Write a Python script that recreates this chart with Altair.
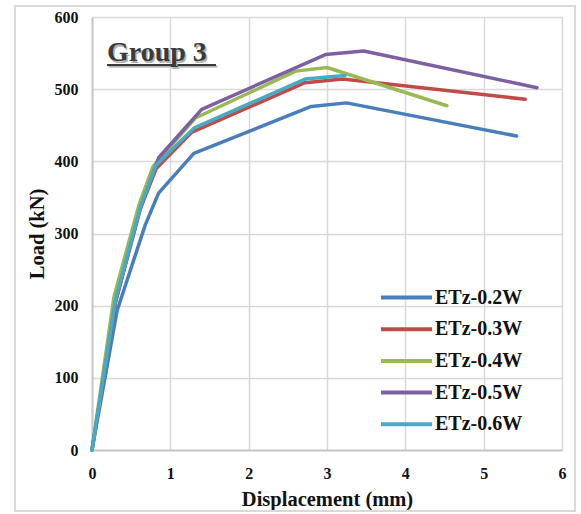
import altair as alt
import pandas as pd

series_names = ["ETz-0.2W", "ETz-0.3W", "ETz-0.4W", "ETz-0.5W", "ETz-0.6W"]
colors = ["#4A7EBB", "#BE4B48", "#98B954", "#7D60A0", "#46AAC5"]

disp_02 = [0, 0.32, 0.68, 0.85, 1.30, 2.80, 3.25, 5.42]
load_02 = [0, 193, 312, 356, 411, 476, 481, 435]
disp_03 = [0, 0.30, 0.60, 0.82, 1.27, 2.72, 3.20, 5.53]
load_03 = [0, 205, 330, 390, 440, 509, 514, 486]
disp_04 = [0, 0.28, 0.60, 0.78, 1.32, 2.60, 3.00, 4.53]
load_04 = [0, 212, 340, 393, 460, 525, 530, 477]
disp_05 = [0, 0.30, 0.62, 0.85, 1.40, 2.98, 3.47, 5.68]
load_05 = [0, 205, 335, 405, 472, 548, 553, 502]
disp_06 = [0, 0.30, 0.62, 0.82, 1.30, 2.72, 3.23]
load_06 = [0, 208, 338, 395, 446, 514, 519]

x_ticks = [0, 1, 2, 3, 4, 5, 6]
y_ticks = [0, 100, 200, 300, 400, 500, 600]
title_text = "Group 3"

rows = []
for name, xs, ys in zip(series_names,
                        [disp_02, disp_03, disp_04, disp_05, disp_06],
                        [load_02, load_03, load_04, load_05, load_06]):
    for i, (xv, yv) in enumerate(zip(xs, ys)):
        rows.append({"series": name, "disp": xv, "load": yv, "idx": i})
df = pd.DataFrame(rows)

FONT = "Liberation Serif"

lines = alt.Chart(df).mark_line(strokeWidth=3.5, strokeCap="round", strokeJoin="round").encode(
    x=alt.X("disp:Q", scale=alt.Scale(domain=[0, 6], nice=False),
            axis=alt.Axis(values=x_ticks, title="Displacement (mm)", format="d")),
    y=alt.Y("load:Q", scale=alt.Scale(domain=[0, 600], nice=False),
            axis=alt.Axis(values=y_ticks, title="Load (kN)", format="d")),
    color=alt.Color("series:N", scale=alt.Scale(domain=series_names, range=colors),
                    legend=alt.Legend(title=None, orient="none", legendX=287, legendY=270,
                                      symbolType="stroke", symbolSize=2601, symbolStrokeWidth=4,
                                      labelFont=FONT, labelFontSize=20, labelFontWeight="bold",
                                      labelColor="#111111", rowPadding=10.7, padding=0,
                                      labelOffset=1, clipHeight=21)),
    order="idx:Q",
)

frame = alt.Chart(pd.DataFrame({"a": [0]})).mark_rect(
    fill=None, stroke="#D9D9D9", strokeWidth=2
).encode(x=alt.value(-77), x2=alt.value(483), y=alt.value(-11), y2=alt.value(494))

tdf = pd.DataFrame({"t": [title_text]})
shadow = alt.Chart(tdf).mark_text(font=FONT, fontSize=28, fontWeight="bold", align="left",
                                  baseline="alphabetic", color="#B0B0B0").encode(
    x=alt.value(16.5), y=alt.value(45.5), text="t:N")
title = alt.Chart(tdf).mark_text(font=FONT, fontSize=28, fontWeight="bold", align="left",
                                 baseline="alphabetic", color="#3A3A3A").encode(
    x=alt.value(15), y=alt.value(44), text="t:N")
underline_sh = alt.Chart(tdf).mark_rule(stroke="#B0B0B0", strokeWidth=2).encode(
    x=alt.value(16.5), x2=alt.value(125.5), y=alt.value(49.5))
underline = alt.Chart(tdf).mark_rule(stroke="#3A3A3A", strokeWidth=2).encode(
    x=alt.value(15), x2=alt.value(124), y=alt.value(48))

chart = alt.layer(frame, lines, underline_sh, underline, shadow, title).properties(
    width=470, height=433,
    padding={"left": 92, "top": 17, "right": 19, "bottom": 64},
    autosize=alt.AutoSizeParams(type="none"),
).configure_view(stroke=None).configure_axis(
    labelFont=FONT, labelFontSize=16, labelFontWeight="bold", labelColor="#111111",
    titleFont=FONT, titleFontSize=20.5, titleFontWeight="bold", titleColor="#111111",
    grid=True, gridColor="#D9D9D9", gridWidth=1.5, ticks=False, labelFlush=False,
    domainColor="#C8C8C8", domainWidth=2,
).configure_axisY(labelPadding=14, titlePadding=7).configure_axisX(labelPadding=15, titlePadding=8)

chart.save("out.html", embed_options={"renderer": "svg", "actions": False})
